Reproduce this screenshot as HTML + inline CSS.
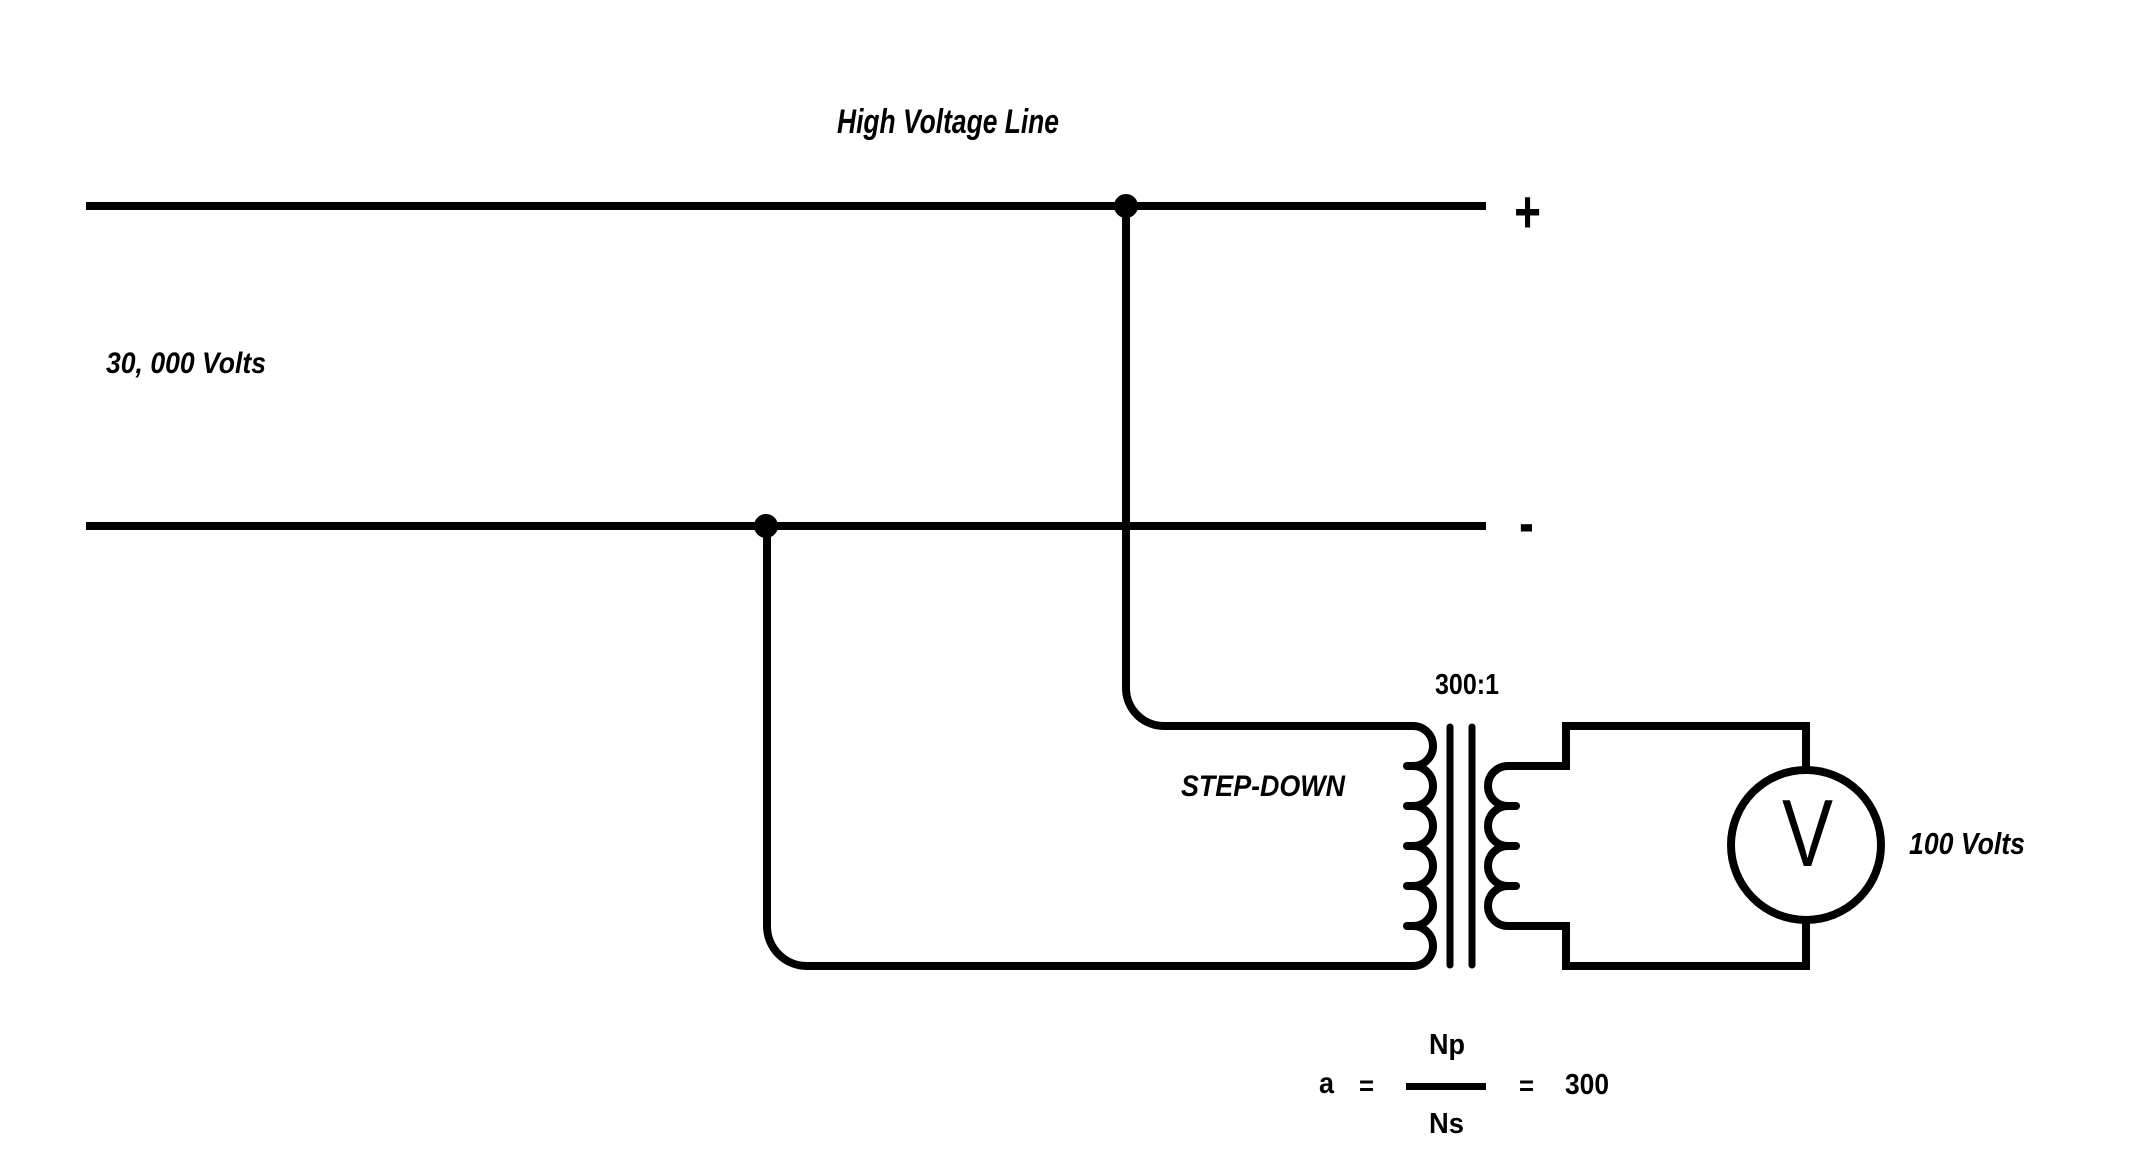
<!DOCTYPE html>
<html>
<head>
<meta charset="utf-8">
<style>
  html, body { margin: 0; padding: 0; background: #ffffff; }
  body { width: 2132px; height: 1172px; overflow: hidden; }
  svg { display: block; }
  .t { font-family: "Liberation Sans", Arial, sans-serif; font-weight: bold; fill: #000; }
  .i { font-style: italic; }
</style>
</head>
<body>
<svg width="2132" height="1172" viewBox="0 0 2132 1172" xmlns="http://www.w3.org/2000/svg">
  <rect x="0" y="0" width="2132" height="1172" fill="#ffffff"/>

  <!-- Main lines -->
  <g stroke="#000" stroke-width="8" fill="none" stroke-linecap="butt">
    <line x1="86" y1="206" x2="1486" y2="206"/>
    <line x1="86" y1="526" x2="1486" y2="526"/>
  </g>

  <!-- Junction dots -->
  <circle cx="1126" cy="206" r="12" fill="#000"/>
  <circle cx="766" cy="526" r="12" fill="#000"/>

  <!-- Primary circuit with coil -->
  <path d="M1126,206 V688 A38,38 0 0 0 1164,726 H1413
           A20,20 0 0 1 1413,766
           A20,20 0 0 1 1413,806
           A20,20 0 0 1 1413,846
           A20,20 0 0 1 1413,886
           A20,20 0 0 1 1413,926
           A20,20 0 0 1 1413,966
           H807 A40,40 0 0 1 767,926 V526"
        stroke="#000" stroke-width="8" fill="none" stroke-linejoin="round"/>
  <g stroke="#000" stroke-width="8" stroke-linecap="round">
    <line x1="1407" y1="766" x2="1413" y2="766"/>
    <line x1="1407" y1="806" x2="1413" y2="806"/>
    <line x1="1407" y1="846" x2="1413" y2="846"/>
    <line x1="1407" y1="886" x2="1413" y2="886"/>
    <line x1="1407" y1="926" x2="1413" y2="926"/>
  </g>

  <!-- Core -->
  <g stroke="#000" stroke-width="7" stroke-linecap="round">
    <line x1="1450" y1="727" x2="1450" y2="965"/>
    <line x1="1472" y1="727" x2="1472" y2="965"/>
  </g>

  <!-- Secondary circuit with coil -->
  <path d="M1806,770 V726 H1566 V766 H1508
           A20,20 0 0 0 1508,806
           A20,20 0 0 0 1508,846
           A20,20 0 0 0 1508,886
           A20,20 0 0 0 1508,926
           H1566 V966 H1806 V920"
        stroke="#000" stroke-width="8" fill="none" stroke-linejoin="miter"/>
  <g stroke="#000" stroke-width="8" stroke-linecap="round">
    <line x1="1508" y1="806" x2="1516" y2="806"/>
    <line x1="1508" y1="846" x2="1516" y2="846"/>
    <line x1="1508" y1="886" x2="1516" y2="886"/>
  </g>

  <!-- Voltmeter -->
  <circle cx="1806" cy="845" r="75" stroke="#000" stroke-width="8" fill="#fff"/>
  <text x="1782" y="866" font-family="Liberation Sans, Arial, sans-serif" font-size="96" fill="#000" textLength="51" lengthAdjust="spacingAndGlyphs">V</text>

  <!-- Fraction bar -->
  <line x1="1406" y1="1086.5" x2="1486" y2="1086.5" stroke="#000" stroke-width="7"/>

  <!-- Labels -->
  <text class="t i" x="837" y="133" font-size="34" textLength="222" lengthAdjust="spacingAndGlyphs">High Voltage Line</text>
  <text class="t i" x="106" y="373" font-size="30" textLength="160" lengthAdjust="spacingAndGlyphs">30, 000 Volts</text>
  <text class="t i" x="1181" y="796" font-size="30" textLength="164" lengthAdjust="spacingAndGlyphs">STEP-DOWN</text>
  <text class="t" x="1435" y="694" font-size="29" textLength="64" lengthAdjust="spacingAndGlyphs">300:1</text>
  <text class="t i" x="1909" y="854" font-size="31" textLength="116" lengthAdjust="spacingAndGlyphs">100 Volts</text>

  <!-- + and - -->
  <text class="t" transform="translate(1527.5,232) scale(1,1.3)" x="0" y="0" font-size="46" text-anchor="middle">+</text>
  <text class="t" transform="translate(1526.5,544) scale(1,1.4)" x="0" y="0" font-size="44" text-anchor="middle">-</text>

  <!-- Equation -->
  <text class="t" x="1319" y="1093" font-size="30" textLength="15" lengthAdjust="spacingAndGlyphs">a</text>
  <text class="t" x="1359" y="1095" font-size="28" textLength="15" lengthAdjust="spacingAndGlyphs">=</text>
  <text class="t" x="1429" y="1054" font-size="29" textLength="36" lengthAdjust="spacingAndGlyphs">Np</text>
  <text class="t" x="1429" y="1133" font-size="29" textLength="35" lengthAdjust="spacingAndGlyphs">Ns</text>
  <text class="t" x="1519" y="1095" font-size="28" textLength="15" lengthAdjust="spacingAndGlyphs">=</text>
  <text class="t" x="1565" y="1094" font-size="29" textLength="44" lengthAdjust="spacingAndGlyphs">300</text>
</svg>
</body>
</html>
